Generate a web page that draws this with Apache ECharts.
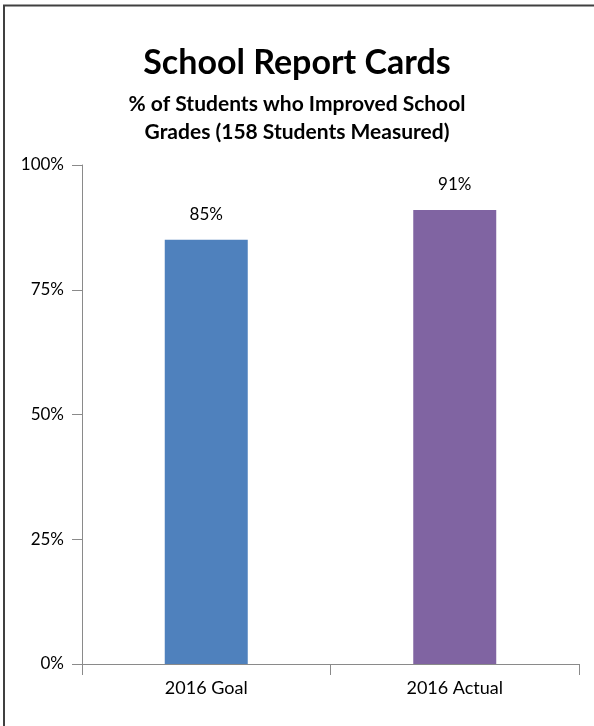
<!DOCTYPE html>
<html>
<head>
<meta charset="utf-8">
<script src="https://cdn.jsdelivr.net/npm/echarts@6/dist/echarts.min.js"></script>
<style>
html,body{margin:0;padding:0;background:#fff;}
#chart{width:594px;height:726px;}
</style>
</head>
<body>
<div id="chart"></div>
<script>
const categories = ['2016 Goal', '2016 Actual'];
const values = [85, 91];
const barColors = ['#4F81BD', '#8064A2'];
const yTicks = [0, 25, 50, 75, 100];
const titleText = 'School Report Cards';
const subtitleText = '% of Students who Improved School\nGrades (158 Students Measured)';

const FONT = 'Lato';
const chart = echarts.init(document.getElementById('chart'), null, {renderer: 'canvas'});
chart.setOption({
  backgroundColor: '#fff',
  animation: false,
  title: {
    text: titleText,
    subtext: subtitleText,
    left: 'center',
    top: 41,
    itemGap: 10,
    textStyle: {fontFamily: FONT, fontWeight: 'bold', fontSize: 34, color: '#000'},
    subtextStyle: {fontFamily: FONT, fontWeight: 'bold', fontSize: 21, color: '#000', lineHeight: 28}
  },
  graphic: [{
    type: 'rect',
    shape: {x: 4, y: 5.5, width: 700, height: 800},
    style: {fill: 'none', stroke: '#404040', lineWidth: 2},
    silent: true
  }],
  grid: {left: 82, right: 15, top: 165, bottom: 62},
  xAxis: {
    type: 'category',
    data: categories,
    axisLine: {lineStyle: {color: '#8a8a8a', width: 1}},
    axisTick: {show: true, length: 11, lineStyle: {color: '#8a8a8a'}},
    axisLabel: {fontFamily: FONT, fontSize: 18, color: '#000', margin: 15}
  },
  yAxis: {
    type: 'value',
    min: yTicks[0],
    max: yTicks[yTicks.length - 1],
    interval: yTicks[1] - yTicks[0],
    splitLine: {show: false},
    axisLine: {show: true, lineStyle: {color: '#8a8a8a', width: 1}},
    axisTick: {show: true, length: 10, lineStyle: {color: '#8a8a8a'}},
    axisLabel: {fontFamily: FONT, fontSize: 17, color: '#000', margin: 18, formatter: '{value}%'}
  },
  series: [{
    type: 'bar',
    data: values.map((v, i) => ({value: v, itemStyle: {color: barColors[i]}})),
    barWidth: '33.4%',
    label: {
      show: true,
      position: 'top',
      distance: 17,
      formatter: '{c}%',
      fontFamily: FONT,
      fontSize: 17,
      color: '#000'
    }
  }]
});
</script>
</body>
</html>
